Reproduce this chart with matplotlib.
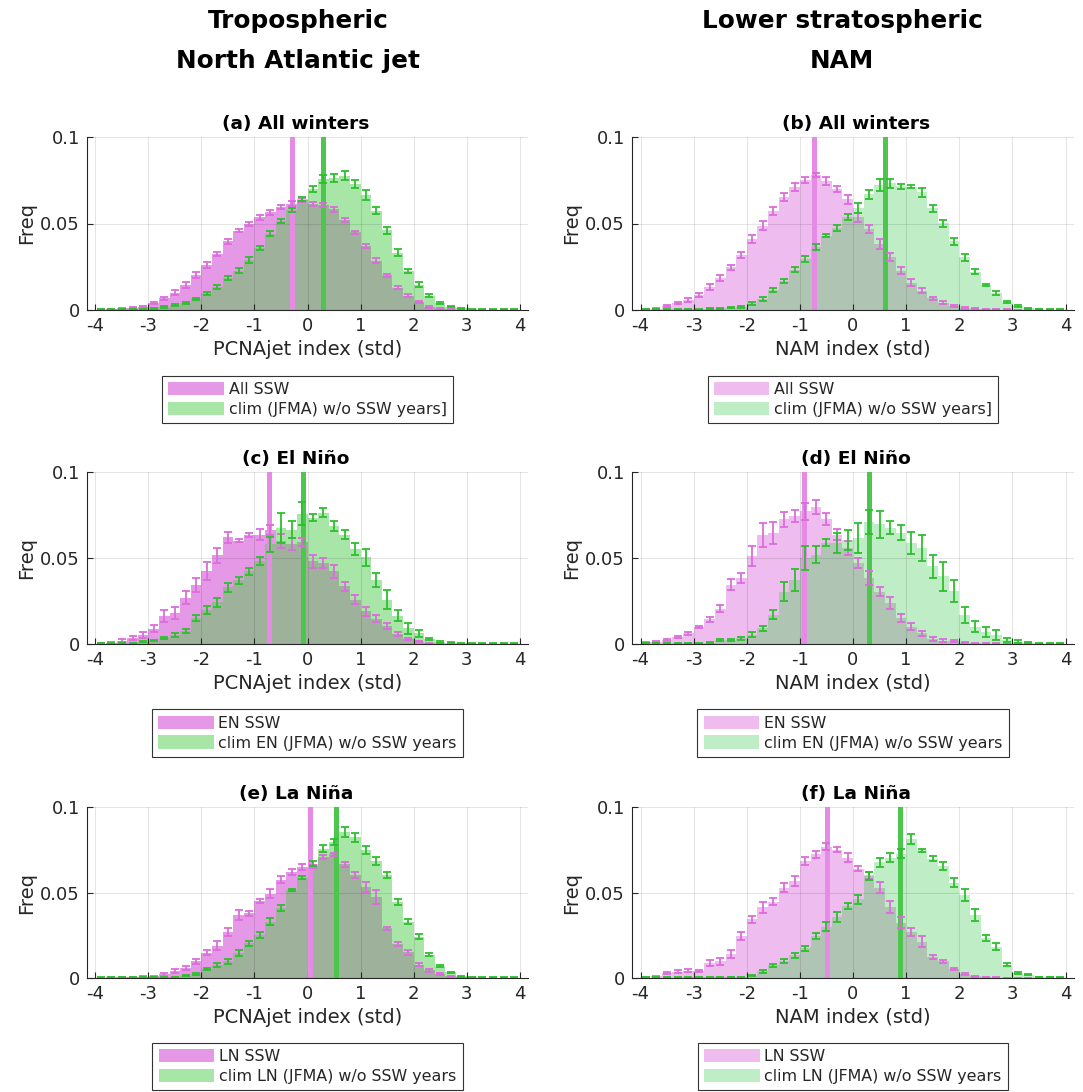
import numpy as np
import matplotlib
matplotlib.use("Agg")
import matplotlib.pyplot as plt
from matplotlib.patches import Patch

plt.rcParams['font.family'] = ['DejaVu Sans']
plt.rcParams['axes.unicode_minus'] = False

# bin edges of the histograms (std units)
edges = np.linspace(-4, 4, 41)
centers = (edges[:-1] + edges[1:]) / 2

# (a) all winters, PCNAjet
ssw_a = [0.0002, 0.0004, 0.001, 0.0014, 0.002, 0.004, 0.0068, 0.010, 0.0145, 0.0203,
         0.026, 0.0324, 0.0396, 0.0458, 0.0498, 0.0535, 0.0564, 0.0595, 0.0614, 0.0637,
         0.0614, 0.0608, 0.0583, 0.052, 0.0448, 0.037, 0.0286, 0.020, 0.013, 0.0083,
         0.0044, 0.0019, 0.001, 0.0004, 0.0002, 0.0001, 0.0001, 0.0001, 0.0, 0.0]
ssw_a_err = [0.0001, 0.0002, 0.0003, 0.0004, 0.0005, 0.0007, 0.0010, 0.0016, 0.0017, 0.0016,
             0.0015, 0.0013, 0.0012, 0.0010, 0.0010, 0.0012, 0.0012, 0.0012, 0.0014, 0.0012,
             0.0012, 0.0012, 0.0014, 0.0012, 0.0010, 0.0012, 0.0012, 0.0010, 0.0008, 0.0008,
             0.0006, 0.0005, 0.0004, 0.0003, 0.0002, 0.0001, 0.0001, 0.0001, 0.0, 0.0]
clim_a = [0.0002, 0.0003, 0.0004, 0.0005, 0.0006, 0.001, 0.0017, 0.0027, 0.004, 0.0064,
          0.0097, 0.0135, 0.0183, 0.0228, 0.029, 0.036, 0.044, 0.0515, 0.058, 0.0643,
          0.070, 0.0759, 0.0763, 0.0776, 0.073, 0.0666, 0.0575, 0.046, 0.0332, 0.0224,
          0.0147, 0.0083, 0.004, 0.0019, 0.001, 0.0004, 0.0002, 0.0002, 0.0002, 0.0002]
clim_a_err = [0.0001, 0.0001, 0.0001, 0.0001, 0.0002, 0.0003, 0.0004, 0.0005, 0.0006, 0.0007,
              0.0009, 0.0012, 0.0012, 0.0014, 0.0018, 0.0012, 0.0014, 0.0010, 0.0012, 0.0012,
              0.0016, 0.0024, 0.0022, 0.0026, 0.0022, 0.0028, 0.0022, 0.0018, 0.0018, 0.0012,
              0.0012, 0.0008, 0.0006, 0.0004, 0.0003, 0.0002, 0.0001, 0.0001, 0.0001, 0.0001]

# (b) all winters, NAM
ssw_b = [0.0002, 0.0006, 0.0023, 0.0039, 0.0058, 0.0085, 0.0135, 0.0183, 0.0247, 0.0319,
         0.041, 0.0487, 0.0573, 0.0654, 0.071, 0.0749, 0.0782, 0.0747, 0.0699, 0.0641,
         0.0537, 0.0467, 0.0382, 0.0305, 0.0228, 0.0158, 0.0112, 0.0068, 0.0042, 0.0025,
         0.0012, 0.0006, 0.0003, 0.0002, 0.0002, 0.0001, 0.0001, 0.0, 0.0, 0.0]
ssw_b_err = [0.0002, 0.0003, 0.0005, 0.0007, 0.0009, 0.0012, 0.0018, 0.0017, 0.0014, 0.0019,
             0.0023, 0.0026, 0.0022, 0.0023, 0.0022, 0.0017, 0.0012, 0.0022, 0.0018, 0.0026,
             0.0026, 0.0024, 0.0028, 0.0024, 0.0018, 0.0020, 0.0016, 0.0010, 0.0008, 0.0006,
             0.0004, 0.0003, 0.0002, 0.0001, 0.0001, 0.0001, 0.0001, 0.0, 0.0, 0.0]
clim_b = [0.0002, 0.0002, 0.0002, 0.0003, 0.0003, 0.0004, 0.0006, 0.001, 0.0014, 0.002,
          0.0039, 0.0064, 0.0116, 0.0168, 0.0232, 0.0293, 0.0363, 0.043, 0.0473, 0.0537,
          0.0589, 0.067, 0.0724, 0.0734, 0.0714, 0.0712, 0.0681, 0.0587, 0.0502, 0.0396,
          0.0305, 0.0222, 0.0145, 0.0097, 0.0048, 0.0023, 0.001, 0.0004, 0.0002, 0.0002]
clim_b_err = [0.0001, 0.0001, 0.0001, 0.0001, 0.0001, 0.0002, 0.0003, 0.0004, 0.0005, 0.0006,
              0.0008, 0.0010, 0.0012, 0.0013, 0.0015, 0.0018, 0.0016, 0.0010, 0.0016, 0.0018,
              0.0030, 0.0026, 0.0036, 0.0026, 0.0016, 0.0008, 0.0026, 0.0018, 0.0020, 0.0018,
              0.0020, 0.0016, 0.0008, 0.0010, 0.0006, 0.0004, 0.0002, 0.0001, 0.0001, 0.0001]

# (c) El Nino, PCNAjet
ssw_c = [0.0002, 0.0006, 0.002, 0.0033, 0.0053, 0.0088, 0.0163, 0.0179, 0.027, 0.0344,
         0.0426, 0.0516, 0.062, 0.0601, 0.0636, 0.0636, 0.0661, 0.0601, 0.0582, 0.0593,
         0.048, 0.0471, 0.0422, 0.0335, 0.0257, 0.0189, 0.0146, 0.0105, 0.0056, 0.0029,
         0.0014, 0.0004, 0.0002, 0.0002, 0.0001, 0.0001, 0.0, 0.0, 0.0, 0.0]
ssw_c_err = [0.0002, 0.0004, 0.0008, 0.0012, 0.0016, 0.0020, 0.0034, 0.0034, 0.0040, 0.0042,
             0.0052, 0.0044, 0.0030, 0.0010, 0.0012, 0.0030, 0.0030, 0.0040, 0.0036, 0.0024,
             0.0040, 0.0030, 0.0038, 0.0028, 0.0026, 0.0024, 0.0020, 0.0020, 0.0012, 0.0008,
             0.0004, 0.0002, 0.0001, 0.0001, 0.0001, 0.0001, 0.0, 0.0, 0.0, 0.0]
clim_c = [0.0002, 0.0003, 0.0004, 0.0005, 0.0014, 0.002, 0.0033, 0.0053, 0.0078, 0.015,
          0.0198, 0.0243, 0.0331, 0.037, 0.0422, 0.0484, 0.058, 0.0675, 0.0665, 0.0757,
          0.0733, 0.0763, 0.0685, 0.0636, 0.0554, 0.0504, 0.0374, 0.0257, 0.0165, 0.0091,
          0.0062, 0.0029, 0.0014, 0.0008, 0.0003, 0.0002, 0.0002, 0.0002, 0.0002, 0.0002]
clim_c_err = [0.0001, 0.0001, 0.0002, 0.0003, 0.0004, 0.0005, 0.0006, 0.0010, 0.0012, 0.0018,
              0.0024, 0.0026, 0.0026, 0.0020, 0.0022, 0.0024, 0.0044, 0.0088, 0.0050, 0.0068,
              0.0020, 0.0026, 0.0030, 0.0028, 0.0036, 0.0048, 0.0040, 0.0056, 0.0034, 0.0030,
              0.0022, 0.0008, 0.0006, 0.0004, 0.0002, 0.0002, 0.0001, 0.0001, 0.0001, 0.0001]

# (d) El Nino, NAM
ssw_d = [0.001, 0.0014, 0.0025, 0.0041, 0.0062, 0.0097, 0.0144, 0.0204, 0.0344, 0.0383,
         0.051, 0.0636, 0.0646, 0.0724, 0.0743, 0.0772, 0.0796, 0.0728, 0.0636, 0.0558,
         0.0471, 0.0383, 0.0305, 0.0237, 0.015, 0.0101, 0.0062, 0.0029, 0.0019, 0.0017,
         0.0008, 0.0004, 0.0002, 0.0002, 0.0001, 0.0, 0.0, 0.0, 0.0, 0.0]
ssw_d_err = [0.0004, 0.0004, 0.0006, 0.0008, 0.0008, 0.0006, 0.0014, 0.0020, 0.0032, 0.0028,
             0.0058, 0.0070, 0.0066, 0.0046, 0.0034, 0.0050, 0.0040, 0.0034, 0.0030, 0.0040,
             0.0030, 0.0040, 0.0026, 0.0036, 0.0024, 0.0020, 0.0014, 0.0010, 0.0008, 0.0008,
             0.0004, 0.0003, 0.0002, 0.0001, 0.0001, 0.0, 0.0, 0.0, 0.0, 0.0]
clim_d = [0.0002, 0.0002, 0.0002, 0.0003, 0.0004, 0.0005, 0.0008, 0.0023, 0.0023, 0.0033,
          0.0053, 0.0091, 0.0169, 0.0305, 0.0374, 0.050, 0.0519, 0.0588, 0.0588, 0.0607,
          0.0617, 0.071, 0.0695, 0.0675, 0.0646, 0.0588, 0.0558, 0.0451, 0.0393, 0.0309,
          0.0169, 0.0101, 0.0068, 0.0053, 0.0023, 0.0014, 0.0008, 0.0004, 0.0002, 0.0002]
clim_d_err = [0.0001, 0.0001, 0.0001, 0.0002, 0.0002, 0.0003, 0.0004, 0.0008, 0.0008, 0.0010,
              0.0014, 0.0016, 0.0026, 0.0054, 0.0064, 0.0070, 0.0050, 0.0020, 0.0060, 0.0058,
              0.0088, 0.0068, 0.0080, 0.0038, 0.0044, 0.0066, 0.0074, 0.0068, 0.0082, 0.0064,
              0.0046, 0.0030, 0.0030, 0.0030, 0.0014, 0.0010, 0.0004, 0.0002, 0.0001, 0.0001]

# (e) La Nina, PCNAjet
ssw_e = [0.0001, 0.0004, 0.0006, 0.0004, 0.0006, 0.001, 0.0021, 0.0043, 0.0058, 0.0097,
         0.0149, 0.019, 0.0271, 0.0368, 0.0378, 0.045, 0.0494, 0.0576, 0.062, 0.0649,
         0.0653, 0.0707, 0.0723, 0.0665, 0.0601, 0.0533, 0.0475, 0.0291, 0.020, 0.0151,
         0.0078, 0.0045, 0.0025, 0.001, 0.0003, 0.0002, 0.0001, 0.0001, 0.0, 0.0]
ssw_e_err = [0.0001, 0.0002, 0.0002, 0.0002, 0.0003, 0.0004, 0.0008, 0.0012, 0.0014, 0.0016,
             0.0016, 0.0024, 0.0024, 0.0030, 0.0016, 0.0014, 0.0026, 0.0022, 0.0020, 0.0016,
             0.0010, 0.0014, 0.0010, 0.0016, 0.0016, 0.0030, 0.0040, 0.0010, 0.0012, 0.0014,
             0.0010, 0.0008, 0.0006, 0.0004, 0.0002, 0.0001, 0.0001, 0.0001, 0.0, 0.0]
clim_e = [0.0002, 0.0002, 0.0002, 0.0003, 0.0003, 0.0004, 0.0004, 0.0005, 0.0014, 0.0025,
          0.0052, 0.0078, 0.0097, 0.0145, 0.0203, 0.0252, 0.0329, 0.0407, 0.0514, 0.0587,
          0.0669, 0.0756, 0.0795, 0.0853, 0.0824, 0.075, 0.0684, 0.0601, 0.0446, 0.0329,
          0.0242, 0.0136, 0.0072, 0.0033, 0.001, 0.0004, 0.0002, 0.0002, 0.0002, 0.0002]
clim_e_err = [0.0001, 0.0001, 0.0001, 0.0001, 0.0001, 0.0002, 0.0002, 0.0003, 0.0004, 0.0006,
              0.0008, 0.0012, 0.0014, 0.0018, 0.0016, 0.0016, 0.0020, 0.0018, 0.0008, 0.0010,
              0.0014, 0.0020, 0.0020, 0.0030, 0.0026, 0.0024, 0.0026, 0.0018, 0.0018, 0.0014,
              0.0014, 0.0008, 0.0006, 0.0005, 0.0003, 0.0002, 0.0001, 0.0001, 0.0001, 0.0001]

# (f) La Nina, NAM
ssw_f = [0.0002, 0.001, 0.0029, 0.0037, 0.0043, 0.0039, 0.0087, 0.0097, 0.0141, 0.0246,
         0.0343, 0.0413, 0.0446, 0.0529, 0.0568, 0.0682, 0.0723, 0.0769, 0.075, 0.0703,
         0.064, 0.060, 0.0529, 0.0417, 0.0324, 0.0271, 0.0213, 0.0122, 0.0097, 0.0052,
         0.0025, 0.001, 0.0003, 0.0002, 0.0001, 0.0001, 0.0, 0.0, 0.0, 0.0]
ssw_f_err = [0.0001, 0.0003, 0.0005, 0.0008, 0.0008, 0.0005, 0.0016, 0.0022, 0.0022, 0.0024,
             0.0022, 0.0030, 0.0020, 0.0024, 0.0030, 0.0024, 0.0020, 0.0022, 0.0016, 0.0026,
             0.0014, 0.0020, 0.0034, 0.0034, 0.0030, 0.0024, 0.0034, 0.0010, 0.0010, 0.0008,
             0.0006, 0.0004, 0.0002, 0.0001, 0.0001, 0.0001, 0.0, 0.0, 0.0, 0.0]
clim_f = [0.0002, 0.0002, 0.0002, 0.0002, 0.0003, 0.0003, 0.0004, 0.0004, 0.0005, 0.0005,
          0.0014, 0.0039, 0.0074, 0.010, 0.0132, 0.0174, 0.0246, 0.030, 0.0355, 0.042,
          0.0461, 0.0595, 0.0678, 0.0703, 0.0727, 0.0814, 0.0746, 0.0698, 0.0655, 0.0558,
          0.0484, 0.0368, 0.0233, 0.0184, 0.0078, 0.0029, 0.0019, 0.0006, 0.0004, 0.0002]
clim_f_err = [0.0001, 0.0001, 0.0001, 0.0001, 0.0001, 0.0001, 0.0002, 0.0002, 0.0002, 0.0003,
              0.0004, 0.0008, 0.0008, 0.0012, 0.0014, 0.0016, 0.0020, 0.0026, 0.0030, 0.0018,
              0.0026, 0.0022, 0.0026, 0.0026, 0.0026, 0.0030, 0.0010, 0.0016, 0.0024, 0.0026,
              0.0036, 0.0036, 0.0018, 0.0020, 0.0010, 0.0006, 0.0003, 0.0002, 0.0001, 0.0001]

# means of the distributions (vertical lines): [ssw, clim]
means_a = [-0.30, 0.29]
means_b = [-0.74, 0.61]
means_c = [-0.73, -0.09]
means_d = [-0.92, 0.30]
means_e = [0.04, 0.53]
means_f = [-0.49, 0.89]

titles = ["(a) All winters", "(b) All winters", "(c) El Niño", "(d) El Niño",
          "(e) La Niña", "(f) La Niña"]
xlabels = ["PCNAjet index (std)", "NAM index (std)"]
col_headers = [("Tropospheric", "North Atlantic jet"), ("Lower stratospheric", "NAM")]
legend_labels = [("All SSW", "clim (JFMA) w/o SSW years]"),
                 ("EN SSW", "clim EN (JFMA) w/o SSW years"),
                 ("LN SSW", "clim LN (JFMA) w/o SSW years")]

panels = [(ssw_a, ssw_a_err, clim_a, clim_a_err, means_a),
          (ssw_b, ssw_b_err, clim_b, clim_b_err, means_b),
          (ssw_c, ssw_c_err, clim_c, clim_c_err, means_c),
          (ssw_d, ssw_d_err, clim_d, clim_d_err, means_d),
          (ssw_e, ssw_e_err, clim_e, clim_e_err, means_e),
          (ssw_f, ssw_f_err, clim_f, clim_f_err, means_f)]

# colours per column: magenta fill, green fill, overlap fill
fills = [("#e598e6", "#a8e6a8", "#9eb19a"),
         ("#eebcee", "#bfedc5", "#b0c4b4")]
err_mag = "#dc6cdc"
err_grn = "#2ebf2e"
line_mag = "#e58ae5"
line_grn = "#4cc64c"
axcol = "#262626"

W, H = 1083, 1092
fig = plt.figure(figsize=(W / 100, H / 100), dpi=100)

lefts = [87, 632]
widths = [441, 442]
tops = [137, 472, 807]
bottoms = [310, 644, 978]
title_x = [0.474, 0.507]
header_x = [298, 842]

for k, (ssw, ssw_err, clim, clim_err, means) in enumerate(panels):
    row, col = divmod(k, 2)
    ssw = np.array(ssw)
    clim = np.array(clim)
    ax = fig.add_axes([lefts[col] / W, 1 - bottoms[row] / H,
                       widths[col] / W, (bottoms[row] - tops[row]) / H])
    fm, fg, fo = fills[col]
    ax.stairs(ssw, edges, fill=True, color=fm, zorder=1)
    ax.stairs(clim, edges, fill=True, color=fg, zorder=1.1)
    ax.stairs(np.minimum(ssw, clim), edges, fill=True, color=fo, zorder=1.2)

    ax.axvline(means[0], color=line_mag, lw=3.6, zorder=3)
    ax.axvline(means[1], color=line_grn, lw=3.6, zorder=3)

    ax.errorbar(centers, ssw, yerr=ssw_err, fmt='none', ecolor=err_mag,
                elinewidth=1.3, capsize=3.2, capthick=1.3, zorder=4)
    ax.errorbar(centers, clim, yerr=clim_err, fmt='none', ecolor=err_grn,
                elinewidth=1.3, capsize=3.2, capthick=1.3, zorder=4)

    ax.set_xlim(-4.16, 4.16)
    ax.set_ylim(0, 0.1)
    ax.set_xticks(np.arange(-4, 5, 1))
    ax.set_yticks([0, 0.05, 0.1])
    ax.set_yticklabels(["0", "0.05", "0.1"])
    ax.set_axisbelow(False)
    ax.grid(True, color="k", alpha=0.1, lw=0.8, zorder=5)
    for s in ["top", "right"]:
        ax.spines[s].set_visible(False)
    for s in ["left", "bottom"]:
        ax.spines[s].set_color(axcol)
        ax.spines[s].set_linewidth(0.8)
        ax.spines[s].set_zorder(6)
    ax.tick_params(direction="in", length=4, width=0.8, colors=axcol,
                   labelsize=13, pad=5)
    ax.set_xlabel(xlabels[col], fontsize=14, color=axcol, labelpad=3.5)
    ax.set_ylabel("Freq", fontsize=14, color=axcol, labelpad=3)
    ax.set_title(titles[k], fontsize=13.3, fontweight="bold", pad=6, x=title_x[col])

    handles = [Patch(facecolor=fm, edgecolor="none"),
               Patch(facecolor=fg, edgecolor="none")]
    leg = ax.legend(handles, legend_labels[row], loc="upper center",
                    bbox_to_anchor=(0.5, -0.38), fontsize=11.4, frameon=True,
                    fancybox=False, edgecolor="#333333", framealpha=1,
                    handlelength=3.5, handleheight=0.9, handletextpad=0.3,
                    labelspacing=0.3, borderpad=0.4, borderaxespad=0)
    leg.get_frame().set_linewidth(0.8)
    for t in leg.get_texts():
        t.set_color(axcol)

for col, (l1, l2) in enumerate(col_headers):
    xc = header_x[col] / W
    fig.text(xc, 1 - 28 / H, l1, ha="center", va="baseline", fontsize=17.8, fontweight="bold")
    fig.text(xc, 1 - 68 / H, l2, ha="center", va="baseline", fontsize=17.8, fontweight="bold")

fig.savefig("out.png", dpi=100)
